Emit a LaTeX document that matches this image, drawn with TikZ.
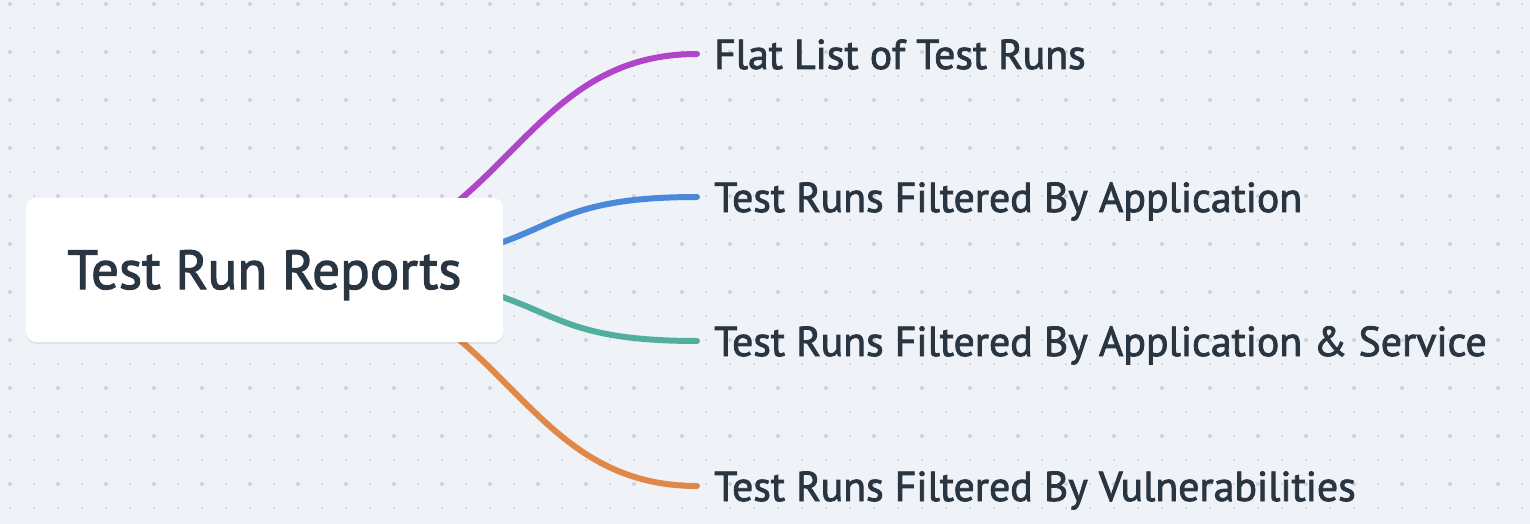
\documentclass[tikz,border=0pt]{standalone}
\usepackage{fontspec}
\setmainfont{PT Sans}[BoldFont={PT Sans}, BoldFeatures={FakeBold=2}]
\usetikzlibrary{calc,backgrounds,shadows}
\definecolor{mmbg}{HTML}{EFF3F7}
\definecolor{mmdot}{HTML}{CCD3DE}
\definecolor{mmink}{HTML}{2A3542}
\definecolor{mmpurple}{HTML}{B045CC}
\definecolor{mmblue}{HTML}{4A89D9}
\definecolor{mmteal}{HTML}{52AF9F}
\definecolor{mmorange}{HTML}{E0884A}
\tikzset{
  rootbox/.style={
    fill=white, rounded corners=10pt, inner sep=0pt,
    minimum width=477pt, minimum height=144pt,
    text=mmink, font=\fontsize{55}{60}\selectfont\bfseries,
    text height=38pt, text depth=0pt,
    drop shadow={shadow xshift=0pt, shadow yshift=-2pt, opacity=0.07, fill=black}
  },
  leaf/.style={
    anchor=west, inner xsep=17pt, inner ysep=0pt,
    text=mmink, font=\fontsize{41.8}{50}\selectfont\bfseries,
    text height=30pt, text depth=0pt
  },
  link/.style={line width=6pt, line cap=round},
  dot/.style={fill=mmdot}
}
\begin{document}
\begin{tikzpicture}[x=1pt, y=-1pt]
  \useasboundingbox (0,0) rectangle (1530,524);
  \begin{scope}[on background layer]
    \fill[mmbg] (0,0) rectangle (1530,524);
    \foreach \x in {10,34,...,1522} \foreach \y in {4,28,...,508} \fill[dot] (\x,\y) circle[radius=1.1pt];
    \foreach \x in {10,58,...,1522} \foreach \y in {4,52,...,508} \fill[dot] (\x,\y) circle[radius=2pt];
  \end{scope}
  \node[rootbox] (rpt) at (264.5,270) {Test Run Reports};
  \node[leaf] (flat) at (697,54) {Flat List of Test Runs};
  \node[leaf] (app) at (697,197) {Test Runs Filtered By Application};
  \node[leaf] (svc) at (697,341) {Test Runs Filtered By Application \& Service};
  \node[leaf] (vul) at (697,486) {Test Runs Filtered By Vulnerabilities};
  % branches run under the root box
  \begin{scope}[on background layer]
    \foreach \n/\col/\a/\b in {flat/mmpurple/0.56/0.56, app/mmblue/0.74/0.53, svc/mmteal/0.74/0.53, vul/mmorange/0.56/0.56} {
      \path ($(rpt.center)!\a!(\n.west)$) coordinate (p\n) ($(rpt.center)!\b!(\n.west)$) coordinate (q\n);
      \draw[link, \col] (rpt.center) .. controls (p\n |- rpt.center) and (q\n |- \n.west) .. (\n.west);
    }
  \end{scope}
\end{tikzpicture}
\end{document}
